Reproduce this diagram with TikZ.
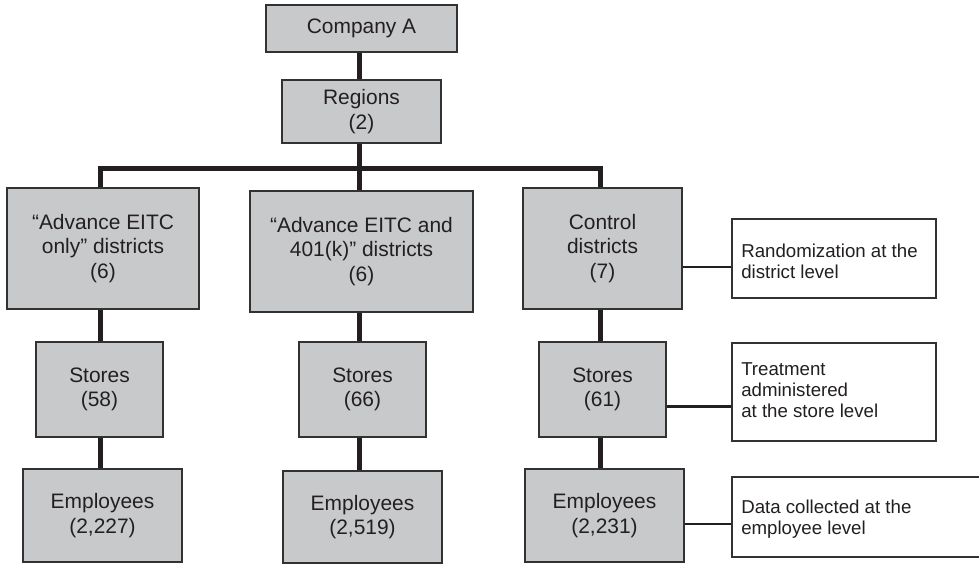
\documentclass[tikz,border=0pt]{standalone}
\usepackage{fontspec}
\setmainfont{Liberation Sans}
\definecolor{boxgray}{RGB}{200,201,203}
\definecolor{ink}{RGB}{35,31,32}
\definecolor{edge}{RGB}{50,50,50}
\begin{document}
\begin{tikzpicture}[x=0.75pt,y=-0.75pt,
  box/.style={draw=edge,line width=1.1pt,fill=boxgray,inner sep=0pt,align=center,
    text=ink,font=\fontsize{15.7}{18.4}\selectfont},
  note/.style={draw=edge,line width=1.1pt,fill=white,inner sep=0pt,text=ink,
    font=\fontsize{14}{15.8}\selectfont},
  notetext/.style={anchor=west,inner sep=0pt,align=left,text=ink,
    font=\fontsize{14}{15.8}\selectfont},
  trunk/.style={draw=ink,line width=3.75pt},
  twig/.style={draw=ink,line width=2pt}]
\useasboundingbox (0,0) rectangle (979,565);
% main boxes
\node[box,minimum width=191*0.75pt,minimum height=47*0.75pt] (company) at (361.5,28.5) {Company A};
\node[box,minimum width=159*0.75pt,minimum height=63*0.75pt] (regions) at (361.5,111.5) {Regions\\(2)};
\node[box,minimum width=192*0.75pt,minimum height=121*0.75pt] (d1) at (103,248.5) {“Advance EITC\\only” districts\\(6)};
\node[box,minimum width=223*0.75pt,minimum height=121*0.75pt] (d2) at (361.5,251.5) {“Advance EITC and\\401(k)” districts\\(6)};
\node[box,minimum width=159*0.75pt,minimum height=121*0.75pt] (d3) at (602.5,248.5) {Control\\districts\\(7)};
\node[box,minimum width=127*0.75pt,minimum height=95*0.75pt] (s1) at (99.5,389.5) {Stores\\(58)};
\node[box,minimum width=127*0.75pt,minimum height=95*0.75pt] (s2) at (362.5,389.5) {Stores\\(66)};
\node[box,minimum width=127*0.75pt,minimum height=95*0.75pt] (s3) at (602.5,389.5) {Stores\\(61)};
\node[box,minimum width=159*0.75pt,minimum height=93*0.75pt] (e1) at (102.5,515.5) {Employees\\(2,227)};
\node[box,minimum width=159*0.75pt,minimum height=92*0.75pt] (e2) at (362.5,517) {Employees\\(2,519)};
\node[box,minimum width=159*0.75pt,minimum height=93*0.75pt] (e3) at (604.5,515.5) {Employees\\(2,231)};
% notes
\node[note,minimum width=204*0.75pt,minimum height=79*0.75pt] (n1) at (834,258.5) {};
\node[notetext] (t1) at (741,261) {Randomization at the\\district level};
\node[note,minimum width=204*0.75pt,minimum height=98*0.75pt] (n2) at (834,392) {};
\node[notetext] (t2) at (741,390) {Treatment\\administered\\at the store level};
\node[note,minimum width=253*0.75pt,minimum height=80*0.75pt] (n3) at (858.5,517) {};
\node[notetext] (t3) at (741,519) {Data collected at the\\employee level};
% column coordinates
\coordinate (c1) at (100,168.5);
\coordinate (c2) at (359,168.5);
\coordinate (c3) at (600,168.5);
% trunk connectors
\draw[trunk] (company.south -| c2) -- (regions.north -| c2);
\draw[trunk] (regions.south -| c2) -- (c2);
\draw[trunk,line join=miter] (d1.north -| c1) -- (c1) -- (c3) -- (d3.north -| c3);
\draw[trunk] (c2) -- (d2.north -| c2);
\draw[trunk] (d1.south -| c1) -- (s1.north -| c1);
\draw[trunk] (s1.south -| c1) -- (e1.north -| c1);
\draw[trunk] (d2.south -| c2) -- (s2.north -| c2);
\draw[trunk] (s2.south -| c2) -- (e2.north -| c2);
\draw[trunk] (d3.south -| c3) -- (s3.north -| c3);
\draw[trunk] (s3.south -| c3) -- (e3.north -| c3);
% note connectors
\draw[twig] (d3.east |- 0,267) -- (n1.west |- 0,267);
\draw[twig] (s3.east |- 0,406.5) -- (n2.west |- 0,406.5);
\draw[twig] (e3.east |- 0,524) -- (n3.west |- 0,524);
\end{tikzpicture}
\end{document}
